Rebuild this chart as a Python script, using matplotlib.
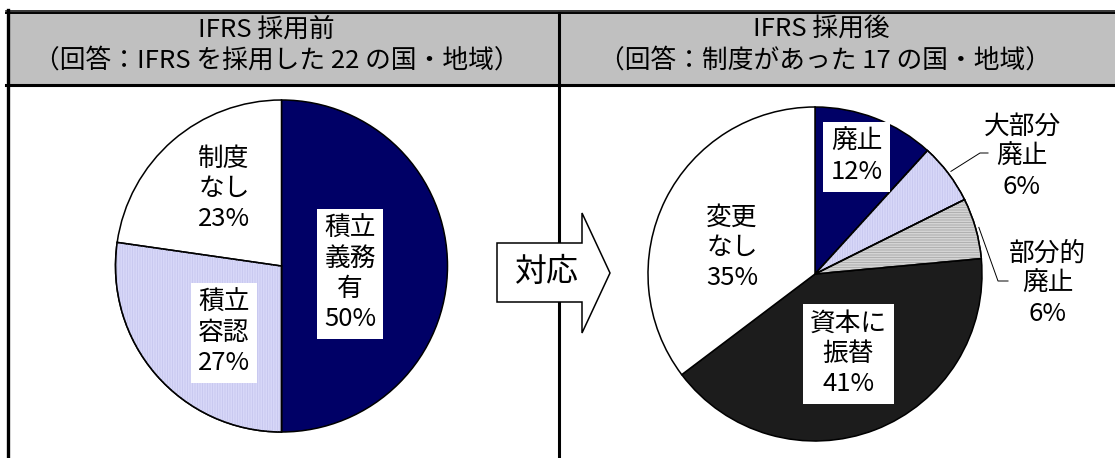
import matplotlib
matplotlib.use("Agg")
import matplotlib.pyplot as plt
from matplotlib.patches import Wedge, Polygon, Rectangle
import numpy as np

plt.rcParams['font.family'] = ['Noto Sans CJK JP', 'DejaVu Sans']
plt.rcParams['hatch.linewidth'] = 0.6

# ---------------- data ----------------
left_header = ["IFRS 採用前", "（回答：IFRS を採用した 22 の国・地域）"]
right_header = ["IFRS 採用後", "（回答：制度があった 17 の国・地域）"]
arrow_label = "対応"

left_labels = ["積立\n義務\n有", "積立\n容認", "制度\nなし"]
left_values = [11, 6, 5]

right_labels = ["廃止", "大部分\n廃止", "部分的\n廃止", "資本に\n振替", "変更\nなし"]
right_values = [2, 1, 1, 7, 6]

# ---------------- styles ----------------
left_colors = ["#000066", "#DEDEFC", "#FFFFFF"]
left_hatch = [None, "||||||||||", None]
left_hatchcol = [None, "#C6C6EE", None]
left_boxed = [True, True, False]
left_pos = [(350, 274), (224, 333), (224, 189)]

right_colors = ["#000066", "#DEDEFC", "#E4E4E4", "#1C1C1C", "#FFFFFF"]
right_hatch = [None, "||||||||||", "----------", None, None]
right_hatchcol = [None, "#C6C6EE", "#A8A8A8", None, None]
right_boxed = [True, False, False, True, False]
right_pos = [(856.5, 157), (1022, 157), (1048, 284), (848.5, 354), (732, 248)]

W, H = 1115, 458
fig = plt.figure(figsize=(W / 100, H / 100), dpi=100)
ax = fig.add_axes([0, 0, 1, 1])

FS = 18.5
HFS = 18.5
LS = 1.19


def draw_pie(values, labels, colors, hatches, hcols, boxed, pos, center, radius):
    wedges, _ = ax.pie(values, colors=colors, startangle=-90, counterclock=True,
                       center=center, radius=radius,
                       wedgeprops=dict(edgecolor="black", linewidth=1.1))
    for w, h, hc in zip(wedges, hatches, hcols):
        if h:
            ax.add_patch(Wedge(w.center, w.r, w.theta1, w.theta2, facecolor="none",
                               edgecolor=hc, linewidth=0, hatch=h, zorder=w.get_zorder() + 0.1))
            ax.add_patch(Wedge(w.center, w.r, w.theta1, w.theta2, facecolor="none",
                               edgecolor="black", linewidth=1.1, zorder=w.get_zorder() + 0.2))
    total = sum(values)
    for lab, v, b, p in zip(labels, values, boxed, pos):
        txt = f"{lab}\n{round(v / total * 100):d}%"
        kw = {}
        if b:
            kw["bbox"] = dict(boxstyle="square,pad=0.28", facecolor="white", edgecolor="none")
        ax.text(p[0], p[1], txt, ha="center", va="center", multialignment="center",
                fontsize=FS, linespacing=LS, zorder=5, **kw)
    return wedges


lw_ = draw_pie(left_values, left_labels, left_colors, left_hatch, left_hatchcol,
               left_boxed, left_pos, (281.5, 266), 166)
rw_ = draw_pie(right_values, right_labels, right_colors, right_hatch, right_hatchcol,
               right_boxed, right_pos, (815, 274), 167)

# leader lines for the two small slices on the right
def leader(w, elbow, stub_x):
    ang = np.deg2rad((w.theta1 + w.theta2) / 2)
    sx = w.center[0] + w.r * 1.02 * np.cos(ang)
    sy = w.center[1] + w.r * 1.02 * np.sin(ang)
    ax.plot([sx, elbow[0], stub_x], [sy, elbow[1], elbow[1]], color="black", lw=0.7, zorder=6)

leader(rw_[1], (980, 153), 988)
leader(rw_[2], (998, 281), 1008)

# ---------------- table frame ----------------
ax.add_patch(Rectangle((8, 13), W - 8, 72, facecolor="#C0C0C0", edgecolor="none", zorder=0))
ax.plot([6, W], [10.5, 10.5], color="black", lw=1.1, zorder=1)
ax.plot([6, W], [13.2, 13.2], color="black", lw=1.4, zorder=1)
ax.plot([6, W], [85, 85], color="black", lw=2.2, zorder=1)
ax.plot([7.5, 7.5], [10, H], color="black", lw=2.4, zorder=1)
ax.plot([558.8, 558.8], [13, H], color="black", lw=2.2, zorder=1)

ax.text(266, 30, left_header[0], ha="center", va="center", fontsize=HFS)
ax.text(277, 61, left_header[1], ha="center", va="center", fontsize=HFS)
ax.text(821, 30, right_header[0], ha="center", va="center", fontsize=HFS)
ax.text(825, 61, right_header[1], ha="center", va="center", fontsize=HFS)

# ---------------- arrow ----------------
arrow = Polygon([(497, 243), (582, 243), (582, 213), (610, 273), (582, 333),
                 (582, 302), (497, 302)], closed=True, facecolor="white",
                edgecolor="black", linewidth=1.1, zorder=4)
ax.add_patch(arrow)
ax.text(547, 272, arrow_label, ha="center", va="center", fontsize=23, zorder=5)

ax.set_xlim(0, W)
ax.set_ylim(H, 0)
ax.set_aspect("auto")
ax.axis("off")

fig.savefig("out.png", dpi=100, facecolor="white")
